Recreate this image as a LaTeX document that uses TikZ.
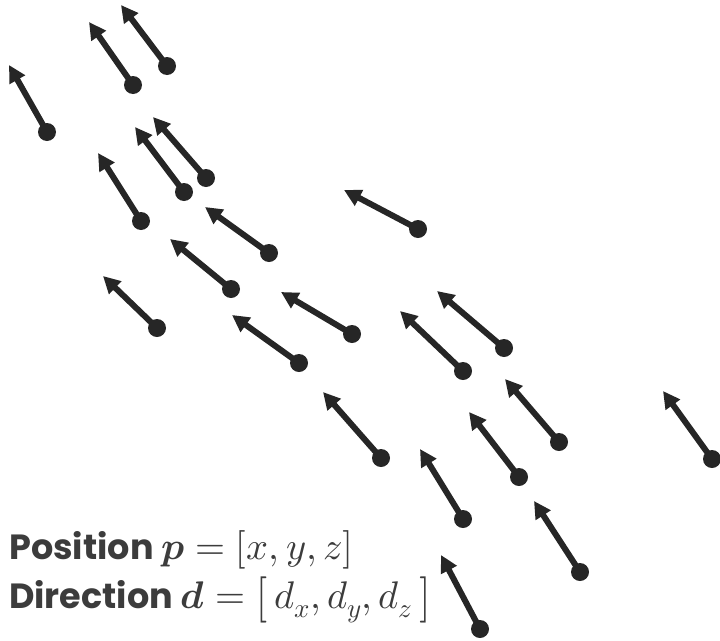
\documentclass[tikz,border=0pt]{standalone}
\usepackage{fontspec}
\usepackage{unicode-math}
\setmainfont{Poppins}
\setmathfont{Latin Modern Math}[Scale=1.1]
\usetikzlibrary{arrows.meta}
\definecolor{ink}{HTML}{262626}
\definecolor{txt}{HTML}{3C3C3C}
\newcommand\tallopen{\mathopen{\raisebox{-3pt}{\scalebox{1.05}[1.2]{$[$}}}}
\newcommand\tallclose{\mathclose{\raisebox{-3pt}{\scalebox{1.05}[1.2]{$]$}}}}
\tikzset{
  dotnode/.style={circle,fill=ink,inner sep=0pt,minimum size=18pt},
  vec/.style={draw=ink,line width=6pt,-{Triangle[length=17pt,width=17pt]},shorten <=-2pt},
  lbl/.style={anchor=base west,inner sep=0pt,text=txt,font=\fontsize{35}{40}\selectfont}
}
\begin{document}
\begin{tikzpicture}[x=1pt,y=-1pt]
\useasboundingbox (0,0) rectangle (720,640);
\foreach \n/\dx/\dy/\tx/\ty in {
 1/47/132/9/65,
 2/133/85/89/22,
 3/167/66/121/5,
 4/141/221/98/153,
 5/184/192/135/127,
 6/206/178/153/117,
 7/418/229/344/190,
 8/269/253/205/207,
 9/231/289/170/239,
 10/157/328/103/276,
 11/352/334/281/292,
 12/299/363/232/315,
 13/463/371/400/311,
 14/504/348/437/291,
 15/712/459/663/391,
 16/381/458/323/392,
 17/519/477/469/412,
 18/559/442/505/379,
 19/463/519/420/449,
 20/580/572/534/501,
 21/480/629/441/555}{
  \node[dotnode] (d\n) at (\dx,\dy) {};
  \coordinate (t\n) at (\tx,\ty);
  \draw[vec] (d\n.center) -- (t\n);
}
\node[lbl] (l1) at (9,559) {\bfseries Position $\symbfit{p}=[x,y,z]$};
\node[lbl] (l2) at (9,608) {\bfseries Direction $\symbfit{d}=\tallopen\,d_x,d_y,d_z\,\tallclose$};
\end{tikzpicture}
\end{document}
